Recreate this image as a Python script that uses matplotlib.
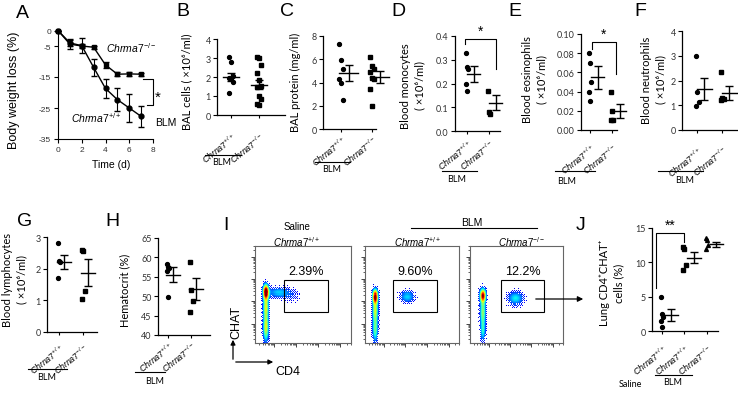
import matplotlib
matplotlib.use('agg')
import matplotlib.pyplot as plt
from matplotlib.patches import Rectangle, FancyArrowPatch
from matplotlib.lines import Line2D
import numpy as np

plt.rcParams['font.family'] = ['Lato', 'DejaVu Sans']
plt.rcParams['mathtext.fontset'] = 'custom'
plt.rcParams['mathtext.rm'] = 'Liberation Sans'
plt.rcParams['mathtext.it'] = 'Liberation Sans:italic'
plt.rcParams['mathtext.bf'] = 'Liberation Sans:bold'
plt.rcParams['axes.unicode_minus'] = False

# ---- values ----
# A: body weight loss (%) after BLM
days = [0, 1, 2, 3, 4, 5, 6, 7]
weight_ko = [0, -4.4, -5.0, -5.4, -11.1, -14.1, -14.0, -14.1]
weight_ko_err = [0, 1.5, 0.6, 0.5, 0.9, 0.6, 0.7, 0.5]
weight_wt = [0, -4.0, -4.9, -11.9, -18.7, -22.3, -25.0, -27.7]
weight_wt_err = [0, 1.0, 2.4, 2.8, 3.0, 3.8, 4.5, 3.4]

genotype_labels = [r'$\mathit{Chrna7}^{+/+}$', r'$\mathit{Chrna7}^{-/-}$']

bal_cells_wt = [3.05, 2.8, 2.05, 1.95, 1.9, 1.75, 1.15]
bal_cells_ko = [3.05, 3.0, 2.65, 2.2, 1.85, 1.55, 1.45, 1.0, 0.85, 0.6, 0.55]
bal_cells_mean = [2.0, 1.6]
bal_cells_sem = [0.2, 0.25]

bal_protein_wt = [7.3, 5.9, 5.2, 4.3, 4.0, 2.5]
bal_protein_ko = [6.2, 5.4, 5.2, 4.9, 4.4, 4.3, 3.4, 2.0]
bal_protein_mean = [4.8, 4.5]
bal_protein_sem = [0.7, 0.5]

monocytes_wt = [0.33, 0.27, 0.26, 0.20, 0.17]
monocytes_ko = [0.17, 0.08, 0.07]
monocytes_mean = [0.24, 0.12]
monocytes_sem = [0.035, 0.03]

eosinophils_wt = [0.08, 0.07, 0.05, 0.04, 0.03]
eosinophils_ko = [0.04, 0.02, 0.01, 0.01]
eosinophils_mean = [0.055, 0.02]
eosinophils_sem = [0.012, 0.007]

neutrophils_wt = [3.0, 1.55, 1.15, 0.95]
neutrophils_ko = [2.35, 1.3, 1.25, 1.2]
neutrophils_mean = [1.65, 1.5]
neutrophils_sem = [0.45, 0.28]

lymphocytes_wt = [2.8, 2.25, 2.2, 1.7]
lymphocytes_ko = [2.6, 2.55, 1.3, 1.05]
lymphocytes_mean = [2.2, 1.87]
lymphocytes_sem = [0.22, 0.42]

hematocrit_wt = [58.2, 57.6, 57.2, 56.5, 49.8]
hematocrit_ko = [58.7, 51.5, 48.7, 46.0]
hematocrit_mean = [55.5, 51.8]
hematocrit_sem = [1.9, 2.9]

chat_labels = [r'$\mathit{Chrna7}^{+/+}$', r'$\mathit{Chrna7}^{+/+}$', r'$\mathit{Chrna7}^{-/-}$']
chat_saline_wt = [4.9, 2.5, 2.1, 1.4, 0.6]
chat_blm_wt = [12.2, 11.9, 9.6, 8.9]
chat_blm_ko = [13.5, 13.2, 12.5, 11.9]
chat_mean = [2.35, 10.65, 12.6]
chat_sem = [0.9, 0.8, 0.3]

# I: flow cytometry populations (centre x, centre y, spread x, spread y, density), axes fractions
flow_saline_wt = [(0.11, 0.53, 0.021, 0.05, 1.0), (0.11, 0.38, 0.021, 0.08, 0.55),
                  (0.11, 0.16, 0.021, 0.10, 0.6), (0.24, 0.52, 0.08, 0.035, 0.28),
                  (0.38, 0.49, 0.07, 0.05, 0.1)]
flow_blm_wt = [(0.105, 0.48, 0.021, 0.05, 1.0), (0.105, 0.34, 0.021, 0.07, 0.5),
               (0.105, 0.15, 0.021, 0.10, 0.45), (0.45, 0.48, 0.055, 0.042, 0.3)]
flow_blm_ko = [(0.135, 0.49, 0.023, 0.05, 0.95), (0.135, 0.33, 0.022, 0.08, 0.45),
               (0.135, 0.14, 0.021, 0.09, 0.35), (0.49, 0.46, 0.06, 0.05, 0.33)]
flow_gate_pct = ['2.39%', '9.60%', '12.2%']

W, H = 738, 410
fig = plt.figure(figsize=(W / 100, H / 100), dpi=100)

# ordered-dither matrix, gives the dotty look of a flow plot edge
BAYER = np.array([[0, 8, 2, 10], [12, 4, 14, 6], [3, 11, 1, 9], [15, 7, 13, 5]]) / 16.0


def px_axes(left, top, right, bottom):
    return fig.add_axes([left / W, 1 - bottom / H, (right - left) / W, (bottom - top) / H])


def fig_text(x, y, s, **kw):
    kw.setdefault('ha', 'center')
    kw.setdefault('va', 'center')
    fig.text(x / W, 1 - y / H, s, **kw)


def fig_line(xs, ys, lw=0.8):
    fig.add_artist(Line2D([x / W for x in xs], [1 - y / H for y in ys], color='black', lw=lw))


def dot_panel(box, groups, means, sems, xlim, ylim, yticks, yfmt, shift, pad, labels,
              markers=('o', 's', '^')):
    ax = px_axes(*box)
    for i, vals in enumerate(groups):
        x0 = i + 1
        offs = [((k % 3) - 1) * 0.06 for k in range(len(vals))]
        ax.plot([x0 + o for o in offs], vals, ls='none', marker=markers[i], ms=2.8,
                color='black', clip_on=False)
        xc = x0 + shift
        ax.plot([xc - 0.3, xc + 0.3], [means[i], means[i]], color='black', lw=1, clip_on=False)
        eb = ax.errorbar([xc], [means[i]], yerr=[sems[i]], fmt='none', ecolor='black',
                         elinewidth=1, capsize=3, capthick=1)
        for art in list(eb.lines[1]) + list(eb.lines[2]):
            art.set_clip_on(False)
    ax.set_xlim(*xlim)
    ax.set_ylim(*ylim)
    ax.spines[['top', 'right']].set_visible(False)
    ax.spines[['left', 'bottom']].set_linewidth(0.9)
    ax.set_yticks(yticks)
    ax.set_yticklabels([yfmt.format(v) for v in yticks])
    ax.tick_params(axis='y', length=3, width=0.8, labelsize=6.5, pad=1.5, labelcolor='#333333')
    ax.set_xticks(range(1, len(groups) + 1))
    ax.set_xticklabels(labels, rotation=38, ha='right', rotation_mode='anchor', fontsize=6.3)
    ax.tick_params(axis='x', length=2.5, width=0.8, pad=pad)
    return ax


def blm_bar(x0, x1, yl, xt, yt):
    fig_line([x0, x1], [yl, yl])
    fig_text(xt, yt, 'BLM', fontsize=6.5)


def flow_box(box, pops, gate, pct):
    ax = px_axes(*box)
    n = int(round(box[2] - box[0]))
    g = np.linspace(0, 1, n)
    X, Y = np.meshgrid(g, g)
    Z = np.zeros_like(X)
    for cx, cy, sx, sy, w in pops:
        Z += w * np.exp(-((X - cx) ** 2 / (2 * sx ** 2) + (Y - cy) ** 2 / (2 * sy ** 2)))
    thr = 0.03 + 0.17 * np.tile(BAYER, (n // 4 + 1, n // 4 + 1))[:n, :n]
    Z = np.ma.masked_where(Z < thr, Z)
    ax.pcolormesh(X, Y, Z, cmap='jet', vmin=-0.06, vmax=1.0, shading='auto')
    ax.add_patch(Rectangle((gate[0], gate[2]), gate[1] - gate[0], gate[3] - gate[2],
                           fill=False, ec='black', lw=0.8))
    ax.text((gate[0] + gate[1]) / 2, gate[3] + 0.03, pct, ha='center', va='bottom',
            fontsize=9, family='Liberation Sans')
    ax.set_xlim(0, 1)
    ax.set_ylim(0, 1)
    for sp in ax.spines.values():
        sp.set_color('#666666')
        sp.set_linewidth(0.8)
    decades = [-0.03, 0.2, 0.43, 0.66, 0.89]
    major = decades[1:]
    minor = [d + 0.23 * np.log10(k) for d in decades for k in range(2, 10)]
    minor = [m for m in minor if 0 < m < 1]
    for axis in (ax.xaxis, ax.yaxis):
        axis.set_ticks(major)
        axis.set_ticks(minor, minor=True)
    ax.tick_params(which='both', direction='out', color='#444444', labelbottom=False,
                   labelleft=False)
    ax.tick_params(which='major', length=3, width=0.7)
    ax.tick_params(which='minor', length=1.6, width=0.6)
    return ax


# ---------------- A ----------------
axA = px_axes(58, 31.5, 153, 140)
axA.errorbar(days, weight_wt, yerr=weight_wt_err, color='black', marker='o', ms=3.5, lw=1,
             elinewidth=0.8, capsize=2, clip_on=False)
axA.errorbar(days, weight_ko, yerr=weight_ko_err, color='black', marker='s', ms=3.3, lw=1,
             elinewidth=0.8, capsize=2, clip_on=False)
axA.set_xlim(0, 8)
axA.set_ylim(-35, 0)
axA.set_xticks([0, 2, 4, 6, 8])
axA.set_yticks([0, -5, -15, -25, -35])
axA.spines[['top', 'right']].set_visible(False)
axA.tick_params(length=3, width=0.8, labelsize=6, pad=2, labelcolor='#333333')
for t in axA.get_xticklabels() + axA.get_yticklabels():
    t.set_family('Liberation Sans')
axA.plot([7.15, 8.0, 8.0, 7.5], [-15.5, -15.5, -24.0, -24.0], color='black', lw=0.8, clip_on=False)
axA.text(8.4, -21.5, '*', fontsize=11, ha='center', va='center', family='Liberation Sans')
axA.text(4.0, -5.3, r'$\mathit{Chrma7}^{-/-}$', fontsize=7.5, ha='left', va='center')
axA.text(1.1, -27.8, r'$\mathit{Chrma7}^{+/+}$', fontsize=7.5, ha='left', va='center')
axA.text(8.15, -29.6, 'BLM', fontsize=7.5, ha='left', va='center', family='Liberation Sans')
fig_text(14, 90, 'Body weight loss (%)', rotation=90, fontsize=9, family='Liberation Sans')
fig_text(111, 165, 'Time (d)', fontsize=7.5, family='Liberation Sans')

# ---------------- B ----------------
dot_panel((217, 40, 285, 116), [bal_cells_wt, bal_cells_ko], bal_cells_mean, bal_cells_sem,
          (0.5, 2.93), (0, 4), [0, 1, 2, 3, 4], '{:g}', 0.0, 8.5, genotype_labels)
fig_text(187, 82, 'BAL cells ( \u00d710\u2076/ml)', rotation=90, fontsize=8)
blm_bar(205, 241, 156, 222, 163)

# ---------------- C ----------------
dot_panel((323, 37, 376, 130), [bal_protein_wt, bal_protein_ko], bal_protein_mean, bal_protein_sem,
          (0.42, 2.13), (0, 8), [0, 2, 4, 6, 8], '{:g}', 0.25, 0.5, genotype_labels)
fig_text(295, 82, 'BAL protein (mg/ml)', rotation=90, fontsize=8)
blm_bar(315, 350, 163, 332, 170)

# ---------------- D ----------------
axD = dot_panel((455, 37, 500, 132), [monocytes_wt, monocytes_ko], monocytes_mean, monocytes_sem,
                (0.45, 2.5), (0, 0.4), [0, 0.1, 0.2, 0.3, 0.4], '{:.1f}', 0.3, 2, genotype_labels)
axD.plot([0.9, 0.9, 2.31, 2.31], [0.366, 0.387, 0.387, 0.261], color='black', lw=0.8, clip_on=False)
axD.text(1.6, 0.392, '*', fontsize=10, ha='center', va='bottom', family='Liberation Sans')
fig_text(413, 86, 'Blood monocytes\n( \u00d710\u2076/ml)', rotation=90, fontsize=8, linespacing=1.35)
blm_bar(442, 477, 172, 457, 180)

# ---------------- E ----------------
axE = dot_panel((581, 35, 617, 131), [eosinophils_wt, eosinophils_ko], eosinophils_mean,
                eosinophils_sem, (0.59, 2.23), (0, 0.10), [0, 0.02, 0.04, 0.06, 0.08, 0.10],
                '{:.2f}', 0.35, 6, genotype_labels)
axE.plot([1.09, 1.09, 2.18, 2.18], [0.0844, 0.0917, 0.0917, 0.0583], color='black', lw=0.8,
         clip_on=False)
axE.text(1.6, 0.093, '*', fontsize=10, ha='center', va='bottom', family='Liberation Sans')
fig_text(535, 80, 'Blood eosinophils\n( \u00d710\u2076/ml)', rotation=90, fontsize=8, linespacing=1.35)
blm_bar(555, 595, 172, 567, 182)

# ---------------- F ----------------
dot_panel((682, 32, 738, 131), [neutrophils_wt, neutrophils_ko], neutrophils_mean, neutrophils_sem,
          (0.4, 2.64), (0, 4), [0, 1, 2, 3, 4], '{:g}', 0.28, 7.5, genotype_labels)
fig_text(654, 80, 'Blood neutrophils\n( \u00d710\u2076/ml)', rotation=90, fontsize=8, linespacing=1.35)
blm_bar(658, 703, 172, 685, 181)

# ---------------- G ----------------
dot_panel((47, 238, 97, 333), [lymphocytes_wt, lymphocytes_ko], lymphocytes_mean, lymphocytes_sem,
          (0.5, 2.58), (0, 3), [0, 1, 2, 3], '{:g}', 0.2, 4, genotype_labels)
fig_text(15, 280, 'Blood lymphocytes\n( \u00d710\u2076/ml)', rotation=90, fontsize=8, linespacing=1.35)
blm_bar(28, 67, 370, 47, 378)

# ---------------- H ----------------
dot_panel((158, 239, 210, 336), [hematocrit_wt, hematocrit_ko], hematocrit_mean, hematocrit_sem,
          (0.57, 2.8), (40, 65), [40, 45, 50, 55, 60, 65], '{:g}', 0.22, 0.5, genotype_labels)
fig_text(125, 290, 'Hematocrit (%)', rotation=90, fontsize=8)
blm_bar(135, 165, 373, 155, 382)

# ---------------- I ----------------
flow_box((255, 247, 351, 344), flow_saline_wt, (0.30, 0.76, 0.32, 0.65), flow_gate_pct[0])
flow_box((365, 247, 459, 344), flow_blm_wt, (0.30, 0.77, 0.32, 0.65), flow_gate_pct[1])
flow_box((470, 247, 563, 344), flow_blm_ko, (0.33, 0.80, 0.32, 0.65), flow_gate_pct[2])
fig_text(297, 227, 'Saline', fontsize=7, family='Liberation Sans')
fig_text(297, 242, r'$\mathit{Chrma7}^{+/+}$', fontsize=7)
fig_text(472, 223, 'BLM', fontsize=7.5, family='Liberation Sans')
fig_line([411, 537], [229, 229])
fig_text(418, 242, r'$\mathit{Chrma7}^{+/+}$', fontsize=7)
fig_text(522, 242, r'$\mathit{Chrma7}^{-/-}$', fontsize=7)
fig.add_artist(FancyArrowPatch((233 / W, 1 - 363 / H), (233 / W, 1 - 338 / H),
                               transform=fig.transFigure, arrowstyle='-|>', mutation_scale=7,
                               lw=0.9, color='black'))
fig.add_artist(FancyArrowPatch((233 / W, 1 - 363 / H), (276 / W, 1 - 363 / H),
                               transform=fig.transFigure, arrowstyle='-|>', mutation_scale=7,
                               lw=0.9, color='black'))
fig_text(236, 322, 'CHAT', rotation=90, fontsize=9, family='Liberation Sans')
fig_text(288, 372, 'CD4', fontsize=9, family='Liberation Sans')
fig.add_artist(FancyArrowPatch((533 / W, 1 - 300 / H), (586 / W, 1 - 300 / H),
                               transform=fig.transFigure, arrowstyle='-|>', mutation_scale=8,
                               lw=0.9, color='black'))

# ---------------- J ----------------
axJ = dot_panel((652, 229, 718, 332), [chat_saline_wt, chat_blm_wt, chat_blm_ko], chat_mean, chat_sem,
                (0.56, 3.49), (0, 15), [0, 5, 10, 15], '{:g}', 0.42, 5.5, chat_labels)
axJ.plot([0.74, 0.74, 1.98, 1.98], [6.27, 14.27, 14.27, 12.96], color='black', lw=0.8, clip_on=False)
axJ.text(1.36, 14.4, '**', fontsize=10, ha='center', va='bottom', family='Liberation Sans')
fig_text(612, 283, 'Lung CD4\u207aCHAT\u207a\ncells (%)', rotation=90, fontsize=8, linespacing=1.35)
fig_text(630, 385, 'Saline', fontsize=6.5)
blm_bar(655, 692, 376, 673, 383)

# panel letters
for letter, x, y in [('A', 22, 13), ('B', 183, 11), ('C', 287, 12), ('D', 398, 12), ('E', 515, 12),
                     ('F', 640, 12), ('G', 25, 222), ('H', 112, 222), ('I', 226, 225), ('J', 581, 225)]:
    fig_text(x, y, letter, fontsize=14, family='Liberation Sans')

fig.savefig('out.png', dpi=100)
